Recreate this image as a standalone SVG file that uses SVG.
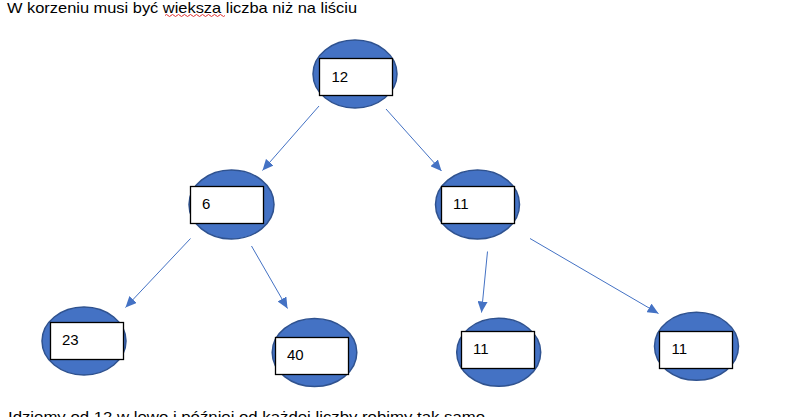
<svg xmlns="http://www.w3.org/2000/svg" width="797" height="417" viewBox="0 0 797 417">
<style>
.txt{font-family:"Liberation Sans","DejaVu Sans",sans-serif;font-size:14.5px;fill:#000}
.num{font-family:"Liberation Sans","DejaVu Sans",sans-serif;font-size:15px;fill:#000}
.ell{fill:#4472C4;stroke:#2F528F;stroke-width:1.5}
.box{fill:#fff;stroke:#000;stroke-width:1.3}
.con{stroke:#4472C4;stroke-width:1;fill:none;marker-end:url(#ah)}
</style>
<defs>
<marker id="ah" markerUnits="userSpaceOnUse" markerWidth="12" markerHeight="10" refX="11" refY="5" orient="auto">
<path d="M0,0 L11,5 L0,10 z" fill="#4472C4"/>
</marker>
</defs>
<rect width="797" height="417" fill="#fff"/>
<text class="txt" x="7" y="13" textLength="350" lengthAdjust="spacingAndGlyphs">W korzeniu musi być wieksza liczba niż na liściu</text>
<path d="M165,15.5 q1.5,-2 3,0 t3,0 t3,0 t3,0 t3,0 t3,0 t3,0 t3,0 t3,0 t3,0 t3,0 t3,0 t3,0 t3,0 t3,0 t3,0 t3,0 t3,0 t3,0 t3,0" stroke="#e03030" stroke-width="1" fill="none"/>
<text class="txt" x="8" y="421.5" textLength="477" lengthAdjust="spacingAndGlyphs">Idziemy od 12 w lewo i później od każdej liczby robimy tak samo</text>
<g id="connectors">
<line class="con" x1="319" y1="106" x2="262.5" y2="170.5"/>
<line class="con" x1="386" y1="109" x2="441.5" y2="171"/>
<line class="con" x1="190.5" y1="238.5" x2="125.5" y2="307.5"/>
<line class="con" x1="251.5" y1="246" x2="287.5" y2="308.5"/>
<line class="con" x1="487.5" y1="251.5" x2="481.5" y2="312.5"/>
<line class="con" x1="530" y1="238.5" x2="658.5" y2="313.5"/>
</g>
<g id="n12">
<ellipse class="ell" cx="355" cy="74" rx="42" ry="34"/>
<rect class="box" x="319.5" y="58.5" width="73" height="37"/>
<text class="num" x="331.5" y="81.5">12</text>
</g>
<g id="n6">
<ellipse class="ell" cx="231.5" cy="204.5" rx="42.5" ry="34.5"/>
<rect class="box" x="190.5" y="186.5" width="73" height="37"/>
<text class="num" x="202" y="209">6</text>
</g>
<g id="n11a">
<ellipse class="ell" cx="477.5" cy="204.5" rx="42" ry="34.5"/>
<rect class="box" x="441.5" y="186.5" width="73" height="37"/>
<text class="num" x="453" y="209">11</text>
</g>
<g id="n23">
<ellipse class="ell" cx="84" cy="341" rx="42" ry="34"/>
<rect class="box" x="50.5" y="322.5" width="73" height="37"/>
<text class="num" x="62" y="345">23</text>
</g>
<g id="n40">
<ellipse class="ell" cx="314.5" cy="352.5" rx="42.3" ry="34"/>
<rect class="box" x="275.5" y="337.5" width="73" height="37"/>
<text class="num" x="287" y="360">40</text>
</g>
<g id="n11b">
<ellipse class="ell" cx="498.7" cy="352.3" rx="42" ry="34"/>
<rect class="box" x="461.5" y="331.5" width="73" height="37"/>
<text class="num" x="473" y="354">11</text>
</g>
<g id="n11c">
<ellipse class="ell" cx="696.5" cy="346.3" rx="42" ry="34"/>
<rect class="box" x="659.5" y="331.5" width="73" height="37"/>
<text class="num" x="671.5" y="354">11</text>
</g>
</svg>
